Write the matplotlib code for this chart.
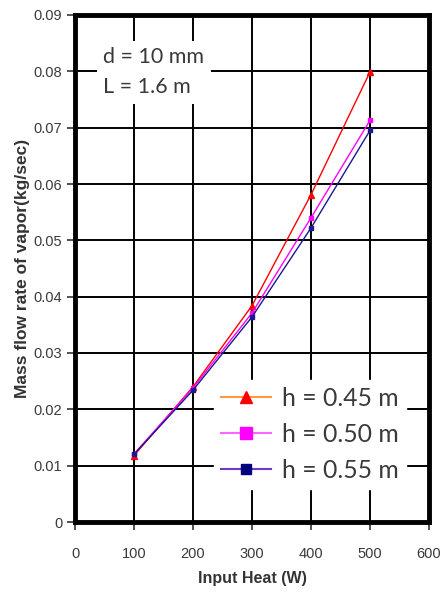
import matplotlib
matplotlib.use("Agg")
import matplotlib.pyplot as plt
from matplotlib.lines import Line2D

heat = [100, 200, 300, 400, 500]
flow_045 = [0.0118, 0.0240, 0.0384, 0.0581, 0.0799]
flow_050 = [0.0121, 0.0238, 0.0371, 0.0540, 0.0713]
flow_055 = [0.0120, 0.0234, 0.0364, 0.0522, 0.0695]
labels = ["h = 0.45 m", "h = 0.50 m", "h = 0.55 m"]
xticks = [0, 100, 200, 300, 400, 500, 600]
yticks = [0, 0.01, 0.02, 0.03, 0.04, 0.05, 0.06, 0.07, 0.08, 0.09]

fig = plt.figure(figsize=(4.43, 5.92), dpi=100)
ax = fig.add_axes([75/443, 70/592, 354/443, 507/592])

ax.plot(heat, flow_045, color="#ff0000", lw=1.0, marker="^", ms=4, zorder=3)
ax.plot(heat, flow_050, color="#ff00ff", lw=1.0, marker="s", ms=3.5, zorder=3)
ax.plot(heat, flow_055, color="#1a1a8c", lw=1.0, marker="s", ms=3, zorder=3)

ax.set_xlim(0, 600)
ax.set_ylim(0, 0.09)
ax.set_xticks(xticks)
ax.set_yticks(yticks)
ax.set_xticklabels([str(v) for v in xticks])
ax.set_yticklabels(["0"] + ["%.2f" % v for v in yticks[1:]])
ax.grid(True, color="black", lw=1.4)
ax.set_axisbelow(True)
for s in ax.spines.values():
    s.set_linewidth(3.5)
    s.set_color("black")
ax.tick_params(direction="out", length=6, width=1.2, color="#333333",
               labelsize=10.5, labelcolor="#3a3a3a")
ax.tick_params(axis="x", pad=12)
ax.tick_params(axis="y", pad=3)
for t in ax.get_xticklabels() + ax.get_yticklabels():
    t.set_fontfamily("Liberation Sans")

ax.set_xlabel("Input Heat (W)", fontsize=11.5, fontweight="bold", color="#333333",
              family="Liberation Sans", labelpad=7)
ax.set_ylabel("Mass flow rate of vapor(kg/sec)", fontsize=12.5, fontweight="bold",
              color="#333333", family="Liberation Sans", labelpad=3)

ax.text(0.08, 0.936, "d = 10 mm\nL = 1.6 m", transform=ax.transAxes,
        fontsize=15.5, family="Lato", color="#3a3a3a", va="top", ha="left",
        linespacing=1.62,
        bbox=dict(boxstyle="square,pad=0.3", fc="white", ec="none"))

handles = [
    Line2D([], [], color="#ff9a40", lw=1.5, marker="^", ms=9, mfc="#ff0000", mec="#ff0000"),
    Line2D([], [], color="#ff66ff", lw=1.5, marker="s", ms=8, mfc="#ff00ff", mec="#ff00ff"),
    Line2D([], [], color="#6a3cc8", lw=1.5, marker="s", ms=6.5, mfc="#000080", mec="#000080"),
]
leg = ax.legend(handles, labels, loc="lower right", bbox_to_anchor=(0.935, 0.065),
                frameon=True, fancybox=False, framealpha=1, edgecolor="white",
                prop=dict(family="Lato", size=17.8), handlelength=2.0,
                labelspacing=0.52, borderpad=0.3, handletextpad=0.45,
                borderaxespad=0.0)
for t in leg.get_texts():
    t.set_color("#3a3a3a")

fig.savefig("out.png", dpi=100)
